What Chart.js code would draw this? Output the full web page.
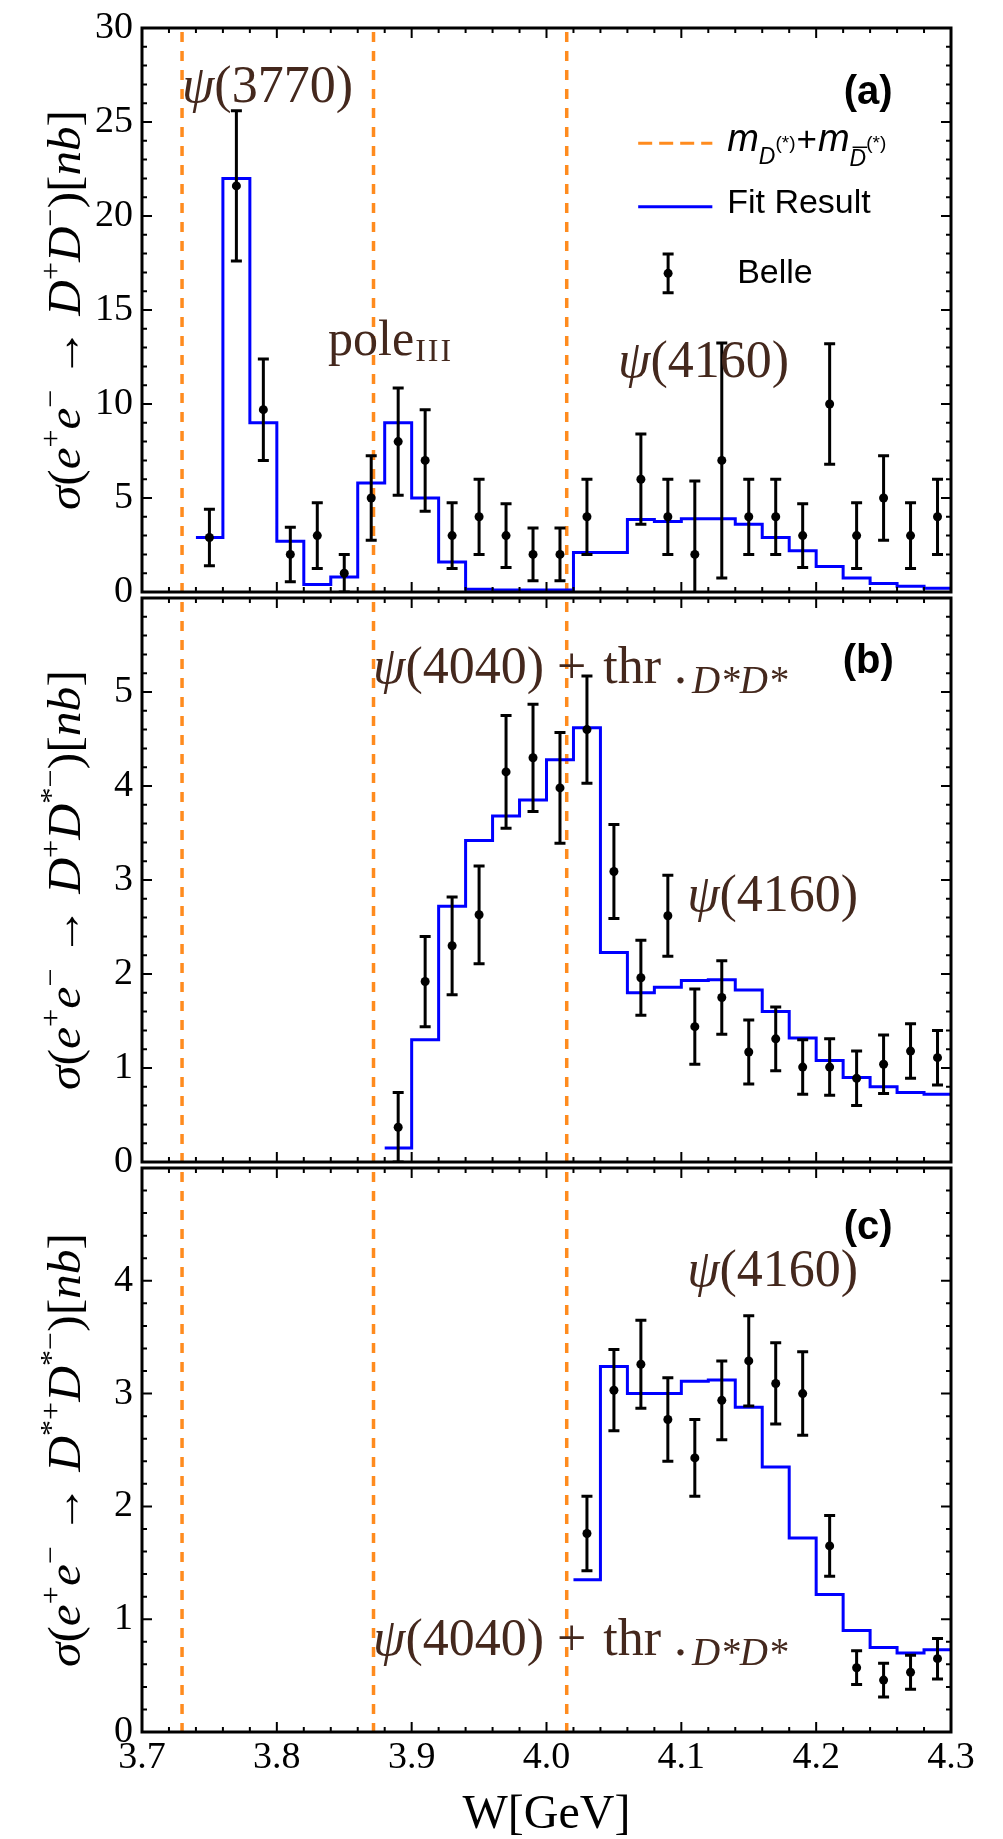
<!DOCTYPE html>
<html lang="en">
<head>
<meta charset="UTF-8">
<title>e+e- to D(*)D(*) cross sections</title>
<script src="https://cdn.jsdelivr.net/npm/chart.js"></script>
<style>
  html, body { margin: 0; padding: 0; background: #fff; }
  #page { position: relative; width: 1003px; height: 1839px; overflow: hidden; background: #fff; }
  canvas { position: absolute; left: 0; }
</style>
</head>
<body>
<div id="page">
  <canvas id="panelA" width="1003" height="620" style="top:0px"></canvas>
  <canvas id="panelB" width="1003" height="620" style="top:570px"></canvas>
  <canvas id="panelC" width="1003" height="699" style="top:1140px"></canvas>
</div>
<script>
// ---- data ----
const xTickVals = [3.7, 3.8, 3.9, 4.0, 4.1, 4.2, 4.3];
const thresholds = [3.7297, 3.8717, 4.015];

// (a) e+e- -> D+D-
const wA = [3.75, 3.77, 3.79, 3.81, 3.83, 3.85, 3.87, 3.89, 3.91, 3.93, 3.95, 3.97, 3.99, 4.01,
            4.03, 4.07, 4.09, 4.11, 4.13, 4.15, 4.17, 4.19, 4.21, 4.23, 4.25, 4.27, 4.29];
const sigA = [2.9, 21.6, 9.7, 2.0, 3.0, 1.0, 5.0, 8.0, 7.0, 3.0, 4.0, 3.0, 2.0, 2.0,
              4.0, 6.0, 4.0, 2.0, 7.0, 4.0, 4.0, 3.0, 10.0, 3.0, 5.0, 3.0, 4.0];
const errA = [1.5, 4.0, 2.7, 1.45, 1.75, 1.0, 2.25, 2.85, 2.7, 1.75, 2.0, 1.7, 1.4, 1.4,
              2.0, 2.4, 2.0, 3.9, 6.25, 2.0, 2.0, 1.7, 3.2, 1.75, 2.25, 1.75, 2.0];
const fitEdgeA = [3.74, 3.76, 3.78, 3.80, 3.82, 3.84, 3.86, 3.88, 3.90, 3.92, 3.94, 3.96, 3.98, 4.00,
                  4.02, 4.04, 4.06, 4.08, 4.10, 4.12, 4.14, 4.16, 4.18, 4.20, 4.22, 4.24, 4.26, 4.28, 4.30];
const fitA = [2.9, 22.0, 9.0, 2.7, 0.4, 0.8, 5.8, 9.0, 5.0, 1.6, 0.15, 0.1, 0.1, 0.1,
              2.1, 2.1, 3.85, 3.75, 3.9, 3.9, 3.6, 2.9, 2.2, 1.35, 0.75, 0.45, 0.3, 0.2, 0.2];

// (b) e+e- -> D+D*-
const wB = [3.89, 3.91, 3.93, 3.95, 3.97, 3.99, 4.01, 4.03, 4.05, 4.07, 4.09, 4.11, 4.13, 4.15,
            4.17, 4.19, 4.21, 4.23, 4.25, 4.27, 4.29];
const sigB = [0.37, 1.92, 2.30, 2.63, 4.15, 4.30, 3.98, 4.60, 3.09, 1.96, 2.62, 1.44, 1.75, 1.17,
              1.31, 1.01, 1.01, 0.89, 1.04, 1.18, 1.11];
const errB = [0.37, 0.48, 0.52, 0.52, 0.60, 0.57, 0.59, 0.57, 0.50, 0.40, 0.43, 0.40, 0.39, 0.34,
              0.34, 0.29, 0.30, 0.29, 0.31, 0.29, 0.29];
const fitEdgeB = [3.88, 3.90, 3.92, 3.94, 3.96, 3.98, 4.00, 4.02, 4.04, 4.06, 4.08, 4.10, 4.12, 4.14,
                  4.16, 4.18, 4.20, 4.22, 4.24, 4.26, 4.28, 4.30];
const fitB = [0.15, 1.30, 2.72, 3.42, 3.68, 3.85, 4.28, 4.62, 2.23, 1.80, 1.86, 1.93, 1.94, 1.83,
              1.60, 1.32, 1.08, 0.90, 0.80, 0.74, 0.72, 0.72];

// (c) e+e- -> D*+D*-
const wC = [4.03, 4.05, 4.07, 4.09, 4.11, 4.13, 4.15, 4.17, 4.19, 4.21, 4.23, 4.25, 4.27, 4.29];
const sigC = [1.76, 3.03, 3.26, 2.77, 2.43, 2.94, 3.29, 3.09, 3.00, 1.65, 0.57, 0.46, 0.53, 0.65];
const errC = [0.33, 0.36, 0.39, 0.37, 0.34, 0.35, 0.40, 0.36, 0.37, 0.27, 0.15, 0.15, 0.15, 0.18];
const fitEdgeC = [4.02, 4.04, 4.06, 4.08, 4.10, 4.12, 4.14, 4.16, 4.18, 4.20, 4.22, 4.24, 4.26, 4.28, 4.30];
const fitC = [1.35, 3.24, 3.00, 3.00, 3.11, 3.12, 2.88, 2.35, 1.72, 1.22, 0.90, 0.75, 0.70, 0.73, 0.73];

const yTicksA = [0, 5, 10, 15, 20, 25, 30];
const yTicksB = [0, 1, 2, 3, 4, 5];
const yTicksC = [0, 1, 2, 3, 4];

// ---- styling ----
const SERIF = '"Liberation Serif", "Times New Roman", "DejaVu Serif", serif';
const SANS = '"Liberation Sans", Arial, Helvetica, sans-serif';
const BROWN = '#44281d';
const ORANGE = '#ff8b1e';
const BLUE = '#0000ff';

function fontOf(s, family) {
  return (s.it ? 'italic ' : '') + s.sz + 'px ' + (s.f || family);
}

function richWidth(ctx, segs, family) {
  let w = 0;
  segs.forEach(s => { ctx.font = fontOf(s, family); w += ctx.measureText(s.t).width + (s.sp || 0); });
  return w;
}

// draws a run of mixed text (italic, sub/superscripts) starting at x on baseline y
function drawRich(ctx, x, y, segs, family, color) {
  ctx.save();
  ctx.fillStyle = color;
  ctx.strokeStyle = color;
  ctx.textAlign = 'left';
  ctx.textBaseline = 'alphabetic';
  let cx = x;
  segs.forEach(s => {
    ctx.font = fontOf(s, family);
    const w = ctx.measureText(s.t).width;
    const dy = s.dy || 0;
    ctx.fillText(s.t, cx, y + dy);
    if (s.bar) {
      ctx.lineWidth = 1.5;
      ctx.beginPath();
      ctx.moveTo(cx + 3, y + dy - s.sz * 0.82);
      ctx.lineTo(cx + w + 1, y + dy - s.sz * 0.82);
      ctx.stroke();
    }
    cx += w + (s.sp || 0);
  });
  ctx.restore();
  return cx - x;
}

const I = t => ({ t, it: 1, sz: 46 });
const R = t => ({ t, sz: 46 });
const S = t => ({ t, sz: 30, dy: -20 });

const titleA = [I('σ'), R('('), I('e'), S('+'), I('e'), S('−'), R(' → '), I('D'), S('+'), I('D'), S('−'), R(')['), I('nb'), R(']')];
const titleB = [I('σ'), R('('), I('e'), S('+'), I('e'), S('−'), R(' → '), I('D'), S('+'), I('D'), S('*−'), R(')['), I('nb'), R(']')];
const titleC = [I('σ'), R('('), I('e'), S('+'), I('e'), S('−'), R(' → '), I('D'), S('*+'), I('D'), S('*−'), R(')['), I('nb'), R(']')];

const psi4160 = [{ t: 'ψ', it: 1, sz: 52 }, { t: '(4160)', sz: 52 }];
const psi4040 = [{ t: 'ψ', it: 1, sz: 52 }, { t: '(4040)', sz: 52 }, { t: ' + ', sz: 52, sp: 4 }, { t: 'thr', sz: 52 },
                 { t: ' .', sz: 52, sp: 5 }, { t: 'D*D*', it: 1, sz: 39, dy: 10 }];

function px(chart, gx, vy) {
  return [chart.scales.x.getPixelForValue(gx), chart.scales.y.getPixelForValue(vy)];
}

// rotated axis title, stretched along its length to the span seen in the figure
function drawYTitle(chart, segs, span) {
  const { ctx, chartArea: a } = chart;
  ctx.save();
  ctx.translate(80, (a.top + a.bottom) / 2);
  ctx.rotate(-Math.PI / 2);
  const w = richWidth(ctx, segs, SERIF);
  const k = span / w;
  ctx.scale(k, 1);
  drawRich(ctx, -w / 2, 0, segs, SERIF, '#000');
  ctx.restore();
}

function drawTag(chart, text, gx, vy) {
  const { ctx } = chart;
  const [x, y] = px(chart, gx, vy);
  ctx.save();
  ctx.fillStyle = '#000';
  ctx.font = 'bold 40px ' + SANS;
  ctx.textAlign = 'center';
  ctx.textBaseline = 'middle';
  ctx.fillText(text, x, y);
  ctx.restore();
}

function drawFrame(chart, yMinor, majorEvery) {
  const { ctx, chartArea: a, scales: { x, y } } = chart;
  ctx.save();
  ctx.strokeStyle = '#000';
  ctx.lineWidth = 2;
  ctx.beginPath();
  for (let k = 0; k <= 30; k++) {
    const p = x.getPixelForValue(3.7 + k * 0.02);
    const len = k % 5 === 0 ? 10 : 5;
    ctx.moveTo(p, a.bottom); ctx.lineTo(p, a.bottom - len);
    ctx.moveTo(p, a.top); ctx.lineTo(p, a.top + len);
  }
  const n = Math.round(y.max / yMinor);
  for (let k = 0; k <= n; k++) {
    const p = y.getPixelForValue(k * yMinor);
    const len = k % majorEvery === 0 ? 10 : 5;
    ctx.moveTo(a.left, p); ctx.lineTo(a.left + len, p);
    ctx.moveTo(a.right, p); ctx.lineTo(a.right - len, p);
  }
  ctx.stroke();
  ctx.lineWidth = 3;
  ctx.strokeRect(a.left, a.top, a.right - a.left, a.bottom - a.top);
  ctx.restore();
}

function makePanel(id, cfg) {
  const deco = {
    id: 'deco_' + id,
    beforeDatasetsDraw(chart) {
      const { ctx, chartArea: a, scales: { x } } = chart;
      ctx.save();
      ctx.strokeStyle = ORANGE;
      ctx.lineWidth = 3.5;
      ctx.setLineDash([10, 9]);
      thresholds.forEach(t => {
        const p = x.getPixelForValue(t);
        ctx.beginPath();
        ctx.moveTo(p, a.top + 4);
        ctx.lineTo(p, a.bottom);
        ctx.stroke();
      });
      ctx.restore();
    },
    afterDatasetsDraw(chart) {
      const { ctx, chartArea: a, scales: { x, y } } = chart;
      ctx.save();
      ctx.beginPath();
      ctx.rect(a.left, a.top, a.right - a.left, a.bottom - a.top);
      ctx.clip();
      ctx.strokeStyle = '#000';
      ctx.lineWidth = 3;
      cfg.w.forEach((w, i) => {
        const p = x.getPixelForValue(w);
        const t = y.getPixelForValue(cfg.s[i] + cfg.e[i]);
        const b = y.getPixelForValue(cfg.s[i] - cfg.e[i]);
        ctx.beginPath();
        ctx.moveTo(p, t); ctx.lineTo(p, b);
        ctx.moveTo(p - 5.5, t); ctx.lineTo(p + 5.5, t);
        ctx.moveTo(p - 5.5, b); ctx.lineTo(p + 5.5, b);
        ctx.stroke();
      });
      ctx.restore();
    },
    afterDraw(chart) {
      drawFrame(chart, cfg.yMinor, 5);
      drawYTitle(chart, cfg.title, cfg.titleSpan);
      cfg.decorate(chart);
    }
  };

  return new Chart(document.getElementById(id), {
    type: 'scatter',
    data: {
      datasets: [
        {
          label: 'Fit Result',
          data: cfg.fitX.map((v, i) => ({ x: v, y: cfg.fitY[i] })),
          showLine: true,
          stepped: 'before',
          borderColor: BLUE,
          borderWidth: 3,
          pointRadius: 0,
          pointHoverRadius: 0,
          fill: false,
          order: 1
        },
        {
          label: 'Belle',
          data: cfg.w.map((v, i) => ({ x: v, y: cfg.s[i] })),
          pointRadius: 4.5,
          pointBackgroundColor: '#000',
          pointBorderWidth: 0,
          order: 0
        }
      ]
    },
    options: {
      responsive: false,
      animation: false,
      devicePixelRatio: 1,
      events: [],
      layout: { padding: cfg.pad },
      plugins: { legend: { display: false }, tooltip: { enabled: false } },
      scales: {
        x: {
          type: 'linear', min: 3.7, max: 4.3,
          display: cfg.showX,
          afterBuildTicks: s => { s.ticks = xTickVals.map(v => ({ value: v })); },
          afterFit: s => { s.height = cfg.showX ? 107 : 0; },
          grid: { display: false, drawTicks: false },
          border: { display: false },
          ticks: {
            autoSkip: false, maxRotation: 0, padding: 7, color: '#000',
            font: { family: SERIF, size: 38, lineHeight: 1 },
            callback: v => Number(v).toFixed(1)
          },
          title: {
            display: true, text: 'W[GeV]', color: '#000',
            font: { family: SERIF, size: 48, lineHeight: 1 },
            padding: { top: 0, bottom: 0 }
          }
        },
        y: {
          type: 'linear', min: 0, max: cfg.yMax,
          afterBuildTicks: s => { s.ticks = cfg.yTicks.map(v => ({ value: v })); },
          afterFit: s => { s.width = 142; },
          grid: { display: false, drawTicks: false },
          border: { display: false },
          ticks: {
            autoSkip: false, padding: 9, color: '#000',
            font: { family: SERIF, size: 38, lineHeight: 1 },
            callback: v => String(v)
          }
        }
      }
    },
    plugins: [deco]
  });
}

// panel (a)
makePanel('panelA', {
  w: wA, s: sigA, e: errA, fitX: fitEdgeA, fitY: fitA,
  yMax: 30, yTicks: yTicksA, yMinor: 1, showX: false,
  pad: { top: 27, bottom: 25, left: 0, right: 52 },
  title: titleA, titleSpan: 400,
  decorate(chart) {
    const { ctx } = chart;
    let p = px(chart, 3.7297, 26.09);
    drawRich(ctx, p[0], p[1], [{ t: 'ψ', it: 1, sz: 52 }, { t: '(3770)', sz: 52 }], SERIF, BROWN);
    p = px(chart, 3.838, 12.62);
    drawRich(ctx, p[0], p[1], [{ t: 'pole', sz: 50, sp: 1 },
      { t: 'I', sz: 32, dy: 6, sp: 2 }, { t: 'I', sz: 32, dy: 6, sp: 2 }, { t: 'I', sz: 32, dy: 6 }], SERIF, BROWN);
    p = px(chart, 4.0531, 11.46);
    drawRich(ctx, p[0], p[1], psi4160, SERIF, BROWN);
    drawTag(chart, '(a)', 4.2386, 26.57);

    // legend
    const x0 = chart.scales.x.getPixelForValue(4.068);
    const x1 = chart.scales.x.getPixelForValue(4.123);
    ctx.save();
    ctx.lineWidth = 3;
    ctx.strokeStyle = ORANGE;
    ctx.setLineDash([14, 7]);
    let yy = chart.scales.y.getPixelForValue(23.87);
    ctx.beginPath(); ctx.moveTo(x0, yy); ctx.lineTo(x1, yy); ctx.stroke();
    ctx.setLineDash([]);
    ctx.strokeStyle = BLUE;
    yy = chart.scales.y.getPixelForValue(20.49);
    ctx.beginPath(); ctx.moveTo(x0, yy); ctx.lineTo(x1, yy); ctx.stroke();
    // Belle marker
    const [bx, by] = px(chart, 4.0902, 16.95);
    const bt = chart.scales.y.getPixelForValue(16.95 + 1.03);
    const bb = chart.scales.y.getPixelForValue(16.95 - 1.03);
    ctx.strokeStyle = '#000';
    ctx.beginPath();
    ctx.moveTo(bx, bt); ctx.lineTo(bx, bb);
    ctx.moveTo(bx - 5.5, bt); ctx.lineTo(bx + 5.5, bt);
    ctx.moveTo(bx - 5.5, bb); ctx.lineTo(bx + 5.5, bb);
    ctx.stroke();
    ctx.fillStyle = '#000';
    ctx.beginPath(); ctx.arc(bx, by, 4.5, 0, Math.PI * 2); ctx.fill();
    ctx.font = '34px ' + SANS;
    ctx.textBaseline = 'middle';
    ctx.fillText('Fit Result', chart.scales.x.getPixelForValue(4.134), chart.scales.y.getPixelForValue(20.65));
    ctx.fillText('Belle', chart.scales.x.getPixelForValue(4.1414), by);
    ctx.restore();
    p = px(chart, 4.134, 23.45);
    drawRich(ctx, p[0], p[1], [
      { t: 'm', it: 1, sz: 38 }, { t: 'D', it: 1, sz: 23, dy: 13 }, { t: '(*)', sz: 19, dy: -2, sp: 1 },
      { t: '+', sz: 35, sp: 1 },
      { t: 'm', it: 1, sz: 38 }, { t: 'D', it: 1, sz: 23, dy: 15, bar: 1 }, { t: '(*)', sz: 19, dy: -2 }
    ], SANS, '#000');
  }
});

// panel (b)
makePanel('panelB', {
  w: wB, s: sigB, e: errB, fitX: fitEdgeB, fitY: fitB,
  yMax: 6, yTicks: yTicksB, yMinor: 0.2, showX: false,
  pad: { top: 25, bottom: 27, left: 0, right: 52 },
  title: titleB, titleSpan: 420,
  decorate(chart) {
    const { ctx } = chart;
    let p = px(chart, 3.8714, 5.10);
    drawRich(ctx, p[0], p[1], psi4040, SERIF, BROWN);
    p = px(chart, 4.1043, 2.67);
    drawRich(ctx, p[0], p[1], psi4160, SERIF, BROWN);
    drawTag(chart, '(b)', 4.2386, 5.32);
  }
});

// panel (c)
makePanel('panelC', {
  w: wC, s: sigC, e: errC, fitX: fitEdgeC, fitY: fitC,
  yMax: 5, yTicks: yTicksC, yMinor: 0.2, showX: true,
  pad: { top: 23, bottom: 0, left: 0, right: 52 },
  title: titleC, titleSpan: 434,
  decorate(chart) {
    const { ctx } = chart;
    let p = px(chart, 4.1043, 3.95);
    drawRich(ctx, p[0], p[1], psi4160, SERIF, BROWN);
    p = px(chart, 3.8714, 0.68);
    drawRich(ctx, p[0], p[1], psi4040, SERIF, BROWN);
    drawTag(chart, '(c)', 4.2386, 4.47);
  }
});
</script>
</body>
</html>
